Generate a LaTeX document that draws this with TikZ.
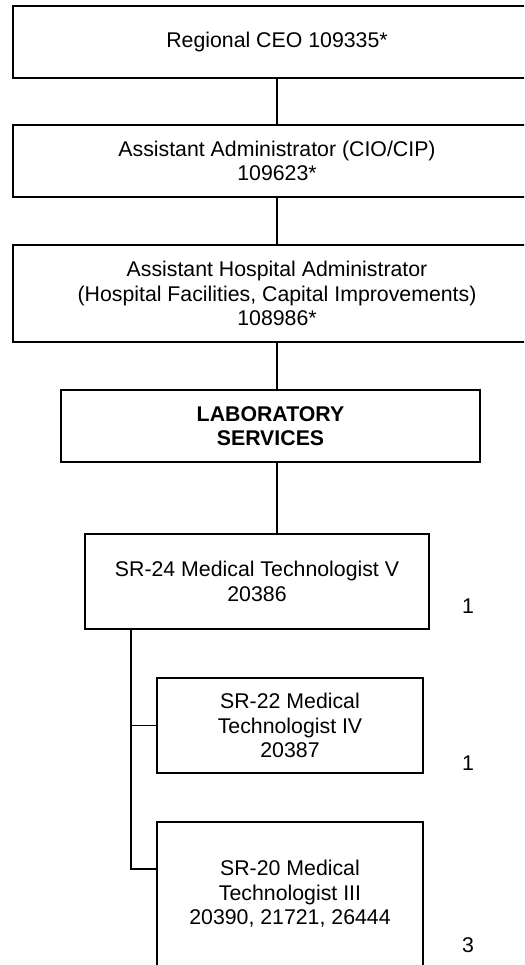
\documentclass[tikz,border=0pt]{standalone}
\usepackage{fontspec}
\setmainfont{Liberation Sans}
\begin{document}
\begin{tikzpicture}[x=1pt, y=-1pt, line width=1.4pt,
            box/.style={draw, align=center, inner sep=0pt, minimum width=#1},
            count/.style={inner sep=0pt},
            every node/.style={font=\fontsize{21.3}{24.5}\selectfont}]
            \useasboundingbox (0, 0) rectangle (524, 965);
            \clip (0, 0) rectangle (524, 965);

            \node[box=528, minimum height=72] (ceo) at (277, 42) {Regional CEO 109335*};
            \node[box=528, minimum height=72] (cio) at (277, 161) {Assistant Administrator (CIO/CIP)\\109623*};
            \node[box=528, minimum height=97] (aha) at (277, 293.5) {Assistant Hospital Administrator\\(Hospital Facilities, Capital Improvements)\\108986*};
            \node[box=419, minimum height=72, font=\fontsize{21.3}{24.5}\selectfont\bfseries] (lab) at (270.5, 426) {LABORATORY\\SERVICES};
            \node[box=344, minimum height=95] (mt5) at (257, 581.5) {SR-24 Medical Technologist V\\20386};
            \node[box=266, minimum height=95] (mt4) at (290, 725.5) {SR-22 Medical\\Technologist IV\\20387};
            \node[box=266, minimum height=144] (mt3) at (290, 894) {SR-20 Medical\\Technologist III\\20390, 21721, 26444};

            \node[count] (n5) at (468, 606) {1};
            \node[count] (n4) at (468, 763) {1};
            \node[count] (n3) at (468, 945) {3};

            \coordinate (trunk) at (131, 629);
            \coordinate (j3) at (157, 869);

            \draw (ceo) -- (cio);
            \draw (cio) -- (aha);
            \draw (aha.south) -- (aha.south |- lab.north);
            \draw (lab.south -| aha.south) -- (aha.south |- mt5.north);
            \draw (trunk) |- (mt4.west);
            \draw (trunk) |- (j3);
        \end{tikzpicture}
\end{document}
